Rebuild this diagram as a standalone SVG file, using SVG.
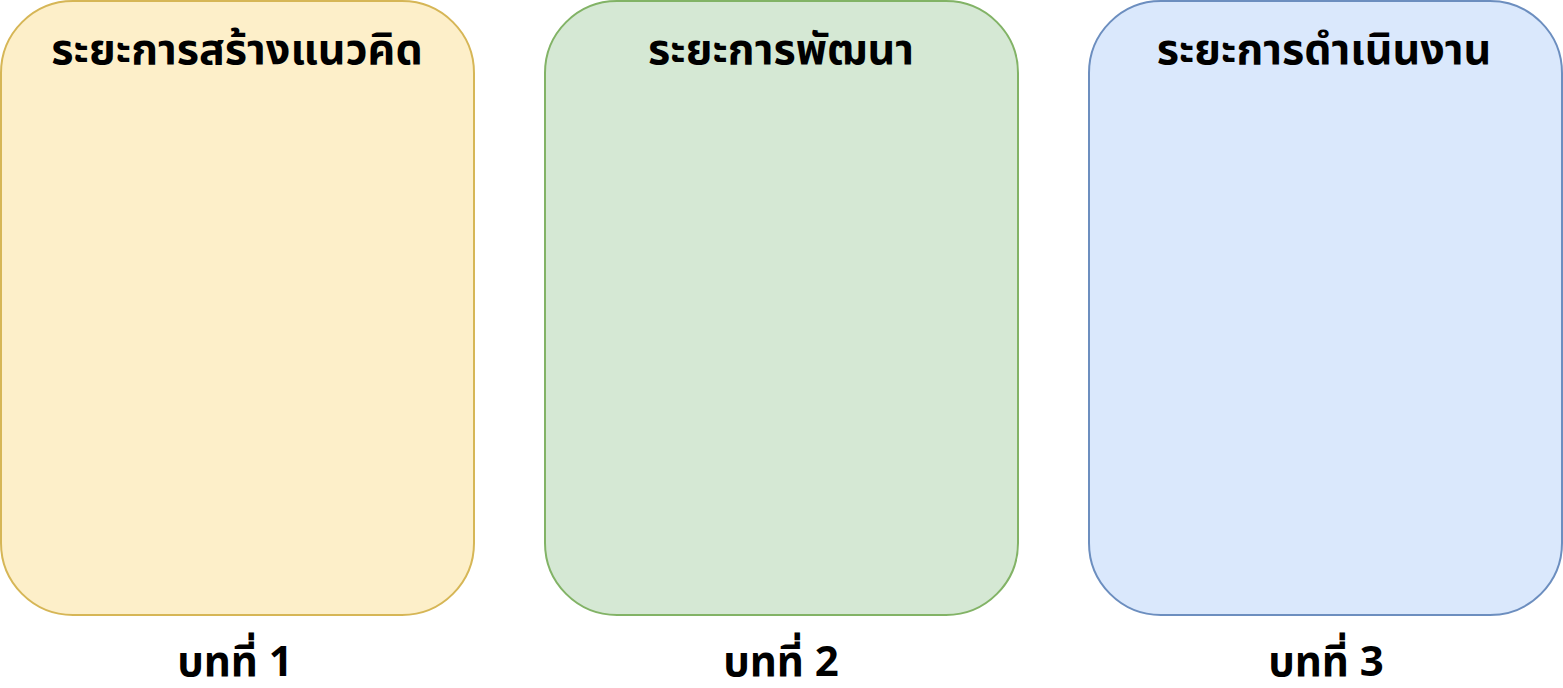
<svg xmlns="http://www.w3.org/2000/svg" width="1563" height="688" viewBox="0 0 1563 688">
<style>
.box{stroke-width:2}
.t{font-family:"Noto Sans Thai","Noto Sans","DejaVu Sans",sans-serif;font-weight:bold;font-size:43px;fill:#000;text-anchor:middle}
.b{font-size:42px}
</style>
<rect width="1563" height="688" fill="#fff"/>
<g id="phase1">
<rect class="box" x="1" y="1" width="473" height="614" rx="72" ry="72" fill="#fdefc9" stroke="#d6b656"/>
<text class="t" x="237" y="64">ระยะการสร้างแนวคิด</text>
<text class="t b" x="235" y="676">บทที่ 1</text>
</g>
<g id="phase2">
<rect class="box" x="545" y="1" width="473" height="614" rx="72" ry="72" fill="#d5e8d4" stroke="#82b366"/>
<text class="t" x="781" y="64">ระยะการพัฒนา</text>
<text class="t b" x="781" y="676">บทที่ 2</text>
</g>
<g id="phase3">
<rect class="box" x="1089" y="1" width="473" height="614" rx="72" ry="72" fill="#dae8fc" stroke="#6c8ebf"/>
<text class="t" x="1324" y="64">ระยะการดำเนินงาน</text>
<text class="t b" x="1326" y="676">บทที่ 3</text>
</g>
<g id="connectors"></g>
</svg>
